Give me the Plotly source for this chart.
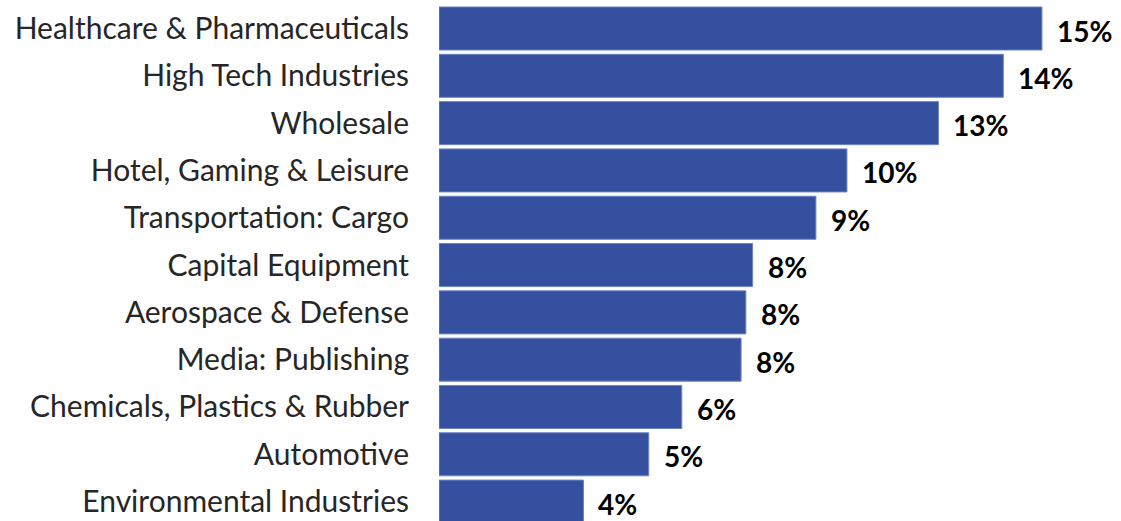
import plotly.graph_objects as go

# Share of respondents by industry
industries = [
    "Healthcare & Pharmaceuticals",
    "High Tech Industries",
    "Wholesale",
    "Hotel, Gaming & Leisure",
    "Transportation: Cargo",
    "Capital Equipment",
    "Aerospace & Defense",
    "Media: Publishing",
    "Chemicals, Plastics & Rubber",
    "Automotive",
    "Environmental Industries",
]
shares = [0.1515, 0.1418, 0.1255, 0.1025, 0.0947, 0.0788, 0.0771, 0.0759, 0.0610, 0.0527, 0.0363]

BAR_COLOR = "#34509e"
EDGE_COLOR = "#6f86c6"
FONT = "Lato"

fig = go.Figure(
    go.Bar(
        x=shares,
        y=industries,
        orientation="h",
        marker=dict(color=BAR_COLOR, line=dict(color=EDGE_COLOR, width=1)),
        hoverinfo="skip",
    )
)

# Percentage labels to the right of each bar
for name, v in zip(industries, shares):
    fig.add_annotation(
        x=v, y=name, xref="x", yref="y",
        text=f"<b>{v:.0%}</b>",
        showarrow=False, xanchor="left", yanchor="middle",
        xshift=13, yshift=-2,
        font=dict(family=FONT, size=28, color="#000000"),
    )

fig.update_layout(
    width=1121, height=521,
    margin=dict(l=439, r=0, t=0, b=0),
    paper_bgcolor="white", plot_bgcolor="white",
    bargap=0.09,
    showlegend=False,
    xaxis=dict(range=[0, 0.17136], visible=False, fixedrange=True),
    yaxis=dict(
        type="category",
        categoryorder="array", categoryarray=industries,
        range=[10.41, -0.6025],
        showgrid=False, zeroline=False, showline=False,
        ticks="", ticklabelstandoff=29,
        tickfont=dict(family=FONT, size=30, color="#262626"),
        fixedrange=True,
    ),
)

fig.write_html("out.html", config={"displayModeBar": False})
